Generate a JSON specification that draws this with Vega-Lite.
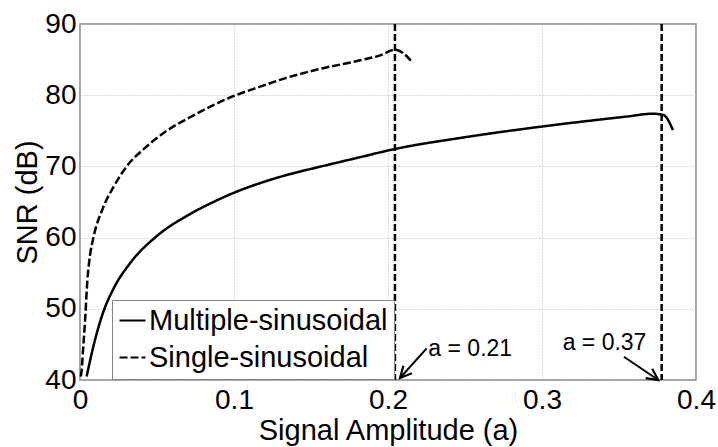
{
  "$schema": "https://vega.github.io/schema/vega-lite/v6.json",
  "width": 616,
  "height": 356,
  "autosize": {"type": "none"},
  "padding": {"left": 80, "top": 24, "right": 22, "bottom": 67},
  "background": "white",
  "config": {
    "font": "Liberation Sans",
    "view": {"stroke": "#858585", "strokeWidth": 1.5},
    "axis": {
      "grid": true, "gridColor": "#b5b5b5", "gridDash": [1, 2], "gridWidth": 1,
      "domain": false, "ticks": false, "tickSize": 0,
      "labelFontSize": 28, "labelColor": "black", "labelFont": "Liberation Sans",
      "titleFontSize": 29, "titleFontWeight": "normal", "titleColor": "black", "titleFont": "Liberation Sans"
    }
  },
  "datasets": {
    "curves": [
      {"series": "Multiple-sinusoidal", "a": 0.0043, "snr": 40.5},
      {"series": "Multiple-sinusoidal", "a": 0.0097, "snr": 45.6},
      {"series": "Multiple-sinusoidal", "a": 0.0152, "snr": 49.6},
      {"series": "Multiple-sinusoidal", "a": 0.0217, "snr": 52.8},
      {"series": "Multiple-sinusoidal", "a": 0.0325, "snr": 56.4},
      {"series": "Multiple-sinusoidal", "a": 0.0498, "snr": 60.2},
      {"series": "Multiple-sinusoidal", "a": 0.0714, "snr": 63.3},
      {"series": "Multiple-sinusoidal", "a": 0.0866, "snr": 65.0},
      {"series": "Multiple-sinusoidal", "a": 0.1, "snr": 66.3},
      {"series": "Multiple-sinusoidal", "a": 0.119, "snr": 67.8},
      {"series": "Multiple-sinusoidal", "a": 0.136, "snr": 68.9},
      {"series": "Multiple-sinusoidal", "a": 0.1548, "snr": 69.9},
      {"series": "Multiple-sinusoidal", "a": 0.182, "snr": 71.3},
      {"series": "Multiple-sinusoidal", "a": 0.2035, "snr": 72.4},
      {"series": "Multiple-sinusoidal", "a": 0.247, "snr": 74.0},
      {"series": "Multiple-sinusoidal", "a": 0.3, "snr": 75.6},
      {"series": "Multiple-sinusoidal", "a": 0.355, "snr": 77.0},
      {"series": "Multiple-sinusoidal", "a": 0.372, "snr": 77.4},
      {"series": "Multiple-sinusoidal", "a": 0.379, "snr": 77.2},
      {"series": "Multiple-sinusoidal", "a": 0.385, "snr": 75.1},
      {"series": "Single-sinusoidal", "a": 0.0005, "snr": 40.5},
      {"series": "Single-sinusoidal", "a": 0.0011, "snr": 41.4},
      {"series": "Single-sinusoidal", "a": 0.002, "snr": 44.3},
      {"series": "Single-sinusoidal", "a": 0.0032, "snr": 48.0},
      {"series": "Single-sinusoidal", "a": 0.0048, "snr": 54.0},
      {"series": "Single-sinusoidal", "a": 0.0065, "snr": 57.5},
      {"series": "Single-sinusoidal", "a": 0.0087, "snr": 60.0},
      {"series": "Single-sinusoidal", "a": 0.0152, "snr": 64.3},
      {"series": "Single-sinusoidal", "a": 0.0217, "snr": 67.1},
      {"series": "Single-sinusoidal", "a": 0.0303, "snr": 70.0},
      {"series": "Single-sinusoidal", "a": 0.0433, "snr": 72.8},
      {"series": "Single-sinusoidal", "a": 0.0563, "snr": 75.0},
      {"series": "Single-sinusoidal", "a": 0.0714, "snr": 76.9},
      {"series": "Single-sinusoidal", "a": 0.0866, "snr": 78.6},
      {"series": "Single-sinusoidal", "a": 0.1, "snr": 79.9},
      {"series": "Single-sinusoidal", "a": 0.117, "snr": 81.2},
      {"series": "Single-sinusoidal", "a": 0.132, "snr": 82.3},
      {"series": "Single-sinusoidal", "a": 0.154, "snr": 83.6},
      {"series": "Single-sinusoidal", "a": 0.182, "snr": 84.9},
      {"series": "Single-sinusoidal", "a": 0.195, "snr": 85.6},
      {"series": "Single-sinusoidal", "a": 0.2045, "snr": 86.4},
      {"series": "Single-sinusoidal", "a": 0.21, "snr": 85.9},
      {"series": "Single-sinusoidal", "a": 0.2154, "snr": 84.7}
    ],
    "vlines": [
      {"a": 0.2045},
      {"a": 0.3777}
    ],
    "arrows": [
      {"label": "a = 0.21", "x": 0.2251, "y": 44.45, "x2": 0.2078, "y2": 40.28, "tx": 0.2262, "ty": 43.37},
      {"label": "a = 0.37", "x": 0.3532, "y": 43.27, "x2": 0.3755, "y2": 40.0, "tx": 0.3134, "ty": 44.21}
    ]
  },
  "layer": [
    {
      "data": {"name": "curves"},
      "mark": {"type": "line", "color": "black", "strokeWidth": 2.5, "interpolate": "monotone"},
      "encoding": {
        "x": {
          "field": "a", "type": "quantitative",
          "scale": {"domain": [0, 0.4]},
          "axis": {"values": [0, 0.1, 0.2, 0.3, 0.4], "format": "~g", "title": "Signal Amplitude (a)", "labelPadding": 6, "titlePadding": 2, "labelFlush": false}
        },
        "y": {
          "field": "snr", "type": "quantitative",
          "scale": {"domain": [40, 90]},
          "axis": {"values": [40, 50, 60, 70, 80, 90], "title": "SNR (dB)", "labelPadding": 4, "titlePadding": 2}
        },
        "strokeDash": {
          "field": "series", "type": "nominal",
          "scale": {"domain": ["Multiple-sinusoidal", "Single-sinusoidal"], "range": [[1, 0], [8, 3]]},
          "legend": {
            "title": null, "orient": "none", "legendX": 32, "legendY": 276,
            "symbolType": "stroke", "symbolSize": 676, "symbolStrokeWidth": 2, "symbolStrokeColor": "black",
            "labelFontSize": 29, "labelColor": "black", "labelFont": "Liberation Sans", "labelOffset": 2, "labelLimit": 400,
            "padding": 6, "rowPadding": 7, "strokeColor": "#858585", "fillColor": "white"
          }
        }
      }
    },
    {
      "data": {"name": "vlines"},
      "mark": {"type": "rule", "color": "black", "strokeWidth": 2.5, "strokeDash": [7, 3]},
      "encoding": {"x": {"field": "a", "type": "quantitative"}}
    },
    {
      "data": {"name": "arrows"},
      "mark": {"type": "rule", "color": "black", "strokeWidth": 2},
      "encoding": {
        "x": {"field": "x", "type": "quantitative"},
        "y": {"field": "y", "type": "quantitative"},
        "x2": {"field": "x2"},
        "y2": {"field": "y2"}
      }
    },
    {
      "data": {"name": "arrows"},
      "transform": [{"filter": "datum.label == 'a = 0.21'"}],
      "mark": {"type": "point", "shape": "M -0.5 1 L 0 0 L 0.5 1", "size": 520, "filled": false, "stroke": "black", "strokeWidth": 2.2, "opacity": 1, "angle": 222},
      "encoding": {
        "x": {"field": "x2", "type": "quantitative"},
        "y": {"field": "y2", "type": "quantitative"}
      }
    },
    {
      "data": {"name": "arrows"},
      "transform": [{"filter": "datum.label == 'a = 0.37'"}],
      "mark": {"type": "point", "shape": "M -0.5 1 L 0 0 L 0.5 1", "size": 520, "filled": false, "stroke": "black", "strokeWidth": 2.2, "opacity": 1, "angle": 125},
      "encoding": {
        "x": {"field": "x2", "type": "quantitative"},
        "y": {"field": "y2", "type": "quantitative"}
      }
    },
    {
      "data": {"name": "arrows"},
      "mark": {"type": "text", "align": "left", "baseline": "alphabetic", "fontSize": 23, "font": "Liberation Sans", "color": "black"},
      "encoding": {
        "x": {"field": "tx", "type": "quantitative"},
        "y": {"field": "ty", "type": "quantitative"},
        "text": {"field": "label"}
      }
    }
  ]
}
